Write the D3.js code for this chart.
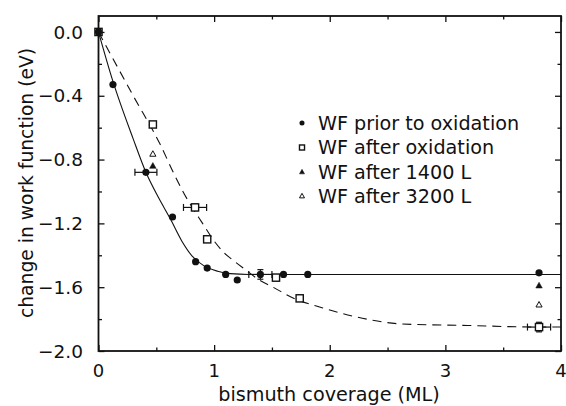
<!DOCTYPE html>
<html>
<head>
<meta charset="utf-8">
<script src="https://cdn.jsdelivr.net/npm/d3@7"></script>
<style>
  html, body { margin: 0; padding: 0; background: #fff; }
  svg { display: block; }
  text { font-family: "DejaVu Sans", sans-serif; fill: #111; }
</style>
</head>
<body>
<svg id="chart" width="566" height="406"></svg>
<script>
// ---- data ----
const xTicks = [0, 1, 2, 3, 4];
const xTickLabels = ["0", "1", "2", "3", "4"];
const yTicks = [0.0, -0.4, -0.8, -1.2, -1.6, -2.0];
const yTickLabels = ["0.0", "\u22120.4", "\u22120.8", "\u22121.2", "\u22121.6", "\u22122.0"];

// WF prior to oxidation (filled circles)
const priorX = [0, 0.125, 0.41, 0.64, 0.84, 0.94, 1.10, 1.20, 1.40, 1.60, 1.81, 3.81];
const priorY = [0, -0.33, -0.88, -1.16, -1.44, -1.48, -1.52, -1.555, -1.52, -1.52, -1.52, -1.51];
// WF after oxidation (open squares)
const oxX = [0, 0.47, 0.835, 0.94, 1.535, 1.74, 3.81];
const oxY = [0, -0.58, -1.10, -1.30, -1.54, -1.67, -1.85];
// WF after 1400 L (filled triangles)
const l1400X = [0.47, 3.81];
const l1400Y = [-0.84, -1.59];
// WF after 3200 L (open triangles)
const l3200X = [0.47, 3.81];
const l3200Y = [-0.765, -1.71];

// error bars
const errX  = [0.41, 0.835, 1.40, 3.81];
const errY  = [-0.88, -1.10, -1.52, -1.85];
const errDX = [0.095, 0.10, 0.10, 0.10];
const errDY = [0.0, 0.02, 0.03, 0.03];

// fitted curves (traced)
const solidX = [0, 0.125, 0.30, 0.41, 0.52, 0.62, 0.72, 0.81, 0.91, 1.03, 1.14, 1.30, 4.0];
const solidY = [0, -0.31, -0.67, -0.88, -1.04, -1.17, -1.31, -1.405, -1.465, -1.50, -1.515, -1.52, -1.52];
const dashX = [0, 0.30, 0.53, 0.66, 0.73, 0.90, 1.01, 1.08, 1.18, 1.27, 1.38, 1.51, 1.66, 1.94, 2.32, 2.61, 3.19, 3.81, 4.0];
const dashY = [0, -0.40, -0.70, -0.90, -1.00, -1.20, -1.32, -1.38, -1.44, -1.49, -1.55, -1.60, -1.66, -1.73, -1.80, -1.83, -1.84, -1.85, -1.85];

const legendLabels = ["WF prior to oxidation", "WF after oxidation", "WF after 1400 L", "WF after 3200 L"];
const legendSymbols = ["circle", "squareOpen", "triangle", "triangleOpen"];

// ---- layout ----
const svg = d3.select("#chart");
const L = 98.5, R = 561, T = 16, B = 351;
const x = d3.scaleLinear().domain([0, 4]).range([L, R]);
const y = d3.scaleLinear().domain([-2.0, 0.1]).range([B, T]);

const ink = "#111";

// curves
const line = d3.line().x(d => x(d[0])).y(d => y(d[1])).curve(d3.curveMonotoneX);
svg.append("path")
  .attr("d", line(d3.zip(solidX, solidY)))
  .attr("fill", "none").attr("stroke", ink).attr("stroke-width", 1.1);
svg.append("path")
  .attr("d", line(d3.zip(dashX, dashY)))
  .attr("fill", "none").attr("stroke", ink).attr("stroke-width", 1.1)
  .attr("stroke-dasharray", "9,6");

// axes (box with inward ticks on all four sides)
const majorLen = 6, minorLen = 3.5;
const gAx = svg.append("g");
const axBottom = d3.axisBottom(x).tickValues(xTicks).tickSize(-majorLen).tickFormat("");
const axBottomMinor = d3.axisBottom(x).tickValues([0.5, 1.5, 2.5, 3.5]).tickSize(-minorLen).tickFormat("");
const axTop = d3.axisTop(x).tickValues(xTicks).tickSize(-majorLen).tickFormat("");
const axTopMinor = d3.axisTop(x).tickValues([0.5, 1.5, 2.5, 3.5]).tickSize(-minorLen).tickFormat("");
const yMinorVals = [-0.2, -0.6, -1.0, -1.4, -1.8];
const axLeft = d3.axisLeft(y).tickValues(yTicks).tickSize(-majorLen).tickFormat("");
const axLeftMinor = d3.axisLeft(y).tickValues(yMinorVals).tickSize(-minorLen).tickFormat("");
const axRight = d3.axisRight(y).tickValues(yTicks).tickSize(-majorLen).tickFormat("");
const axRightMinor = d3.axisRight(y).tickValues(yMinorVals).tickSize(-minorLen).tickFormat("");

function styleAxis(g) {
  g.selectAll("path.domain").attr("stroke", ink).attr("stroke-width", 1.8);
  g.selectAll(".tick line").attr("stroke", ink).attr("stroke-width", 1.3);
}
gAx.append("g").attr("transform", `translate(0,${B})`).call(axBottom).call(styleAxis);
gAx.append("g").attr("transform", `translate(0,${B})`).call(axBottomMinor).call(styleAxis);
gAx.append("g").attr("transform", `translate(0,${T})`).call(axTop).call(styleAxis);
gAx.append("g").attr("transform", `translate(0,${T})`).call(axTopMinor).call(styleAxis);
gAx.append("g").attr("transform", `translate(${L},0)`).call(axLeft).call(styleAxis);
gAx.append("g").attr("transform", `translate(${L},0)`).call(axLeftMinor).call(styleAxis);
gAx.append("g").attr("transform", `translate(${R},0)`).call(axRight).call(styleAxis);
gAx.append("g").attr("transform", `translate(${R},0)`).call(axRightMinor).call(styleAxis);
gAx.selectAll("path.domain").attr("d", null);
svg.append("rect").attr("x", L).attr("y", T).attr("width", R - L).attr("height", B - T)
  .attr("fill", "none").attr("stroke", ink).attr("stroke-width", 1.8);

// tick labels
svg.append("g").selectAll("text").data(xTicks).join("text")
  .attr("x", d => x(d)).attr("y", 376.5)
  .attr("text-anchor", "middle").attr("font-size", 18)
  .text((d, i) => xTickLabels[i]);
svg.append("g").selectAll("text").data(yTicks).join("text")
  .attr("x", 83).attr("y", d => y(d)).attr("dy", "0.36em")
  .attr("text-anchor", "end").attr("font-size", 18.5)
  .text((d, i) => yTickLabels[i]);

// axis titles
svg.append("text").attr("x", 329).attr("y", 401)
  .attr("text-anchor", "middle").attr("font-size", 19.2)
  .text("bismuth coverage (ML)");
svg.append("text").attr("transform", "translate(33,183) rotate(-90)")
  .attr("text-anchor", "middle").attr("font-size", 18.7)
  .text("change in work function (eV)");

// error bars
const gErr = svg.append("g").attr("stroke", ink).attr("stroke-width", 1.2);
errX.forEach((ex, i) => {
  const cx = x(ex), cy = y(errY[i]);
  const x0 = x(ex - errDX[i]), x1 = x(ex + errDX[i]);
  gErr.append("line").attr("x1", x0).attr("x2", x1).attr("y1", cy).attr("y2", cy);
  gErr.append("line").attr("x1", x0).attr("x2", x0).attr("y1", cy - 3.5).attr("y2", cy + 3.5);
  gErr.append("line").attr("x1", x1).attr("x2", x1).attr("y1", cy - 3.5).attr("y2", cy + 3.5);
  if (errDY[i] > 0) {
    const y0 = y(errY[i] - errDY[i]), y1 = y(errY[i] + errDY[i]);
    gErr.append("line").attr("x1", cx).attr("x2", cx).attr("y1", y0).attr("y2", y1);
    gErr.append("line").attr("x1", cx - 3).attr("x2", cx + 3).attr("y1", y0).attr("y2", y0);
    gErr.append("line").attr("x1", cx - 3).attr("x2", cx + 3).attr("y1", y1).attr("y2", y1);
  }
});

// marker drawing
function drawSymbol(g, kind, cx, cy, s) {
  if (kind === "circle") {
    g.append("circle").attr("cx", cx).attr("cy", cy).attr("r", 3.6 * s).attr("fill", ink);
  } else if (kind === "squareOpen") {
    const h = 3.6 * s;
    g.append("rect").attr("x", cx - h).attr("y", cy - h).attr("width", 2 * h).attr("height", 2 * h)
      .attr("fill", "#fff").attr("stroke", ink).attr("stroke-width", 1.4);
  } else {
    const h = 3.8 * s;
    const pts = [[cx, cy - h], [cx + h * 0.95, cy + h * 0.7], [cx - h * 0.95, cy + h * 0.7]];
    g.append("polygon").attr("points", pts.map(p => p.join(",")).join(" "))
      .attr("fill", kind === "triangle" ? ink : "#fff")
      .attr("stroke", ink).attr("stroke-width", kind === "triangle" ? 0.5 : 1);
  }
}

const gPts = svg.append("g");
oxX.forEach((v, i) => drawSymbol(gPts, "squareOpen", x(v), y(oxY[i]), 1));
priorX.forEach((v, i) => drawSymbol(gPts, "circle", x(v), y(priorY[i]), 1));
l1400X.forEach((v, i) => drawSymbol(gPts, "triangle", x(v), y(l1400Y[i]), 0.9));
l3200X.forEach((v, i) => drawSymbol(gPts, "triangleOpen", x(v), y(l3200Y[i]), 0.85));

// legend
const gLeg = svg.append("g");
const legY = [123, 147.5, 172, 196];
legendLabels.forEach((lab, i) => {
  drawSymbol(gLeg, legendSymbols[i], 302, legY[i], 0.7);
  gLeg.append("text").attr("x", 318).attr("y", legY[i]).attr("dy", "0.36em")
    .attr("font-size", 19.2).text(lab);
});
</script>
</body>
</html>
